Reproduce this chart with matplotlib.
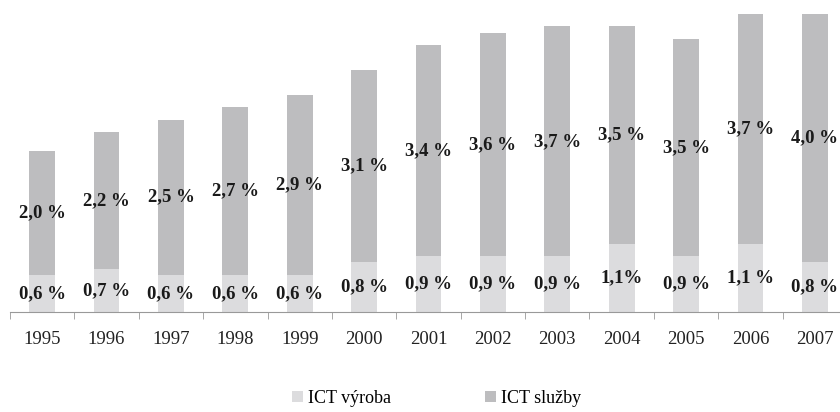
import matplotlib.pyplot as plt
import numpy as np

# Data
years = ['1995', '1996', '1997', '1998', '1999', '2000', '2001',
         '2002', '2003', '2004', '2005', '2006', '2007']
ict_vyroba = [0.6, 0.7, 0.6, 0.6, 0.6, 0.8, 0.9, 0.9, 0.9, 1.1, 0.9, 1.1, 0.8]
ict_sluzby = [2.0, 2.2, 2.5, 2.7, 2.9, 3.1, 3.4, 3.6, 3.7, 3.5, 3.5, 3.7, 4.0]
vyroba_labels = ['0,6 %', '0,7 %', '0,6 %', '0,6 %', '0,6 %', '0,8 %', '0,9 %',
                 '0,9 %', '0,9 %', '1,1%', '0,9 %', '1,1 %', '0,8 %']
sluzby_labels = ['2,0 %', '2,2 %', '2,5 %', '2,7 %', '2,9 %', '3,1 %', '3,4 %',
                 '3,6 %', '3,7 %', '3,5 %', '3,5 %', '3,7 %', '4,0 %']

plt.rcParams['font.family'] = ['Liberation Serif', 'DejaVu Serif']

fig = plt.figure(figsize=(8.4, 4.12), dpi=100)
ax = fig.add_axes([10 / 840, 1 - 312 / 412, 837 / 840, 298 / 412])

x = np.arange(len(years))
c_low = '#dcdcde'
c_high = '#bdbdbf'
b1 = ax.bar(x, ict_vyroba, width=0.4, color=c_low, label='ICT výroba')
b2 = ax.bar(x, ict_sluzby, width=0.4, bottom=ict_vyroba, color=c_high, label='ICT služby')

for i in range(len(years)):
    ax.text(x[i], ict_vyroba[i] / 2, vyroba_labels[i], ha='center', va='center',
            fontsize=13.5, fontweight='bold', color='#1a1a1a')
    ax.text(x[i], ict_vyroba[i] + ict_sluzby[i] / 2, sluzby_labels[i], ha='center',
            va='center', fontsize=13.5, fontweight='bold', color='#1a1a1a')

ax.set_xlim(-0.5, len(years) - 0.5)
ax.set_ylim(0, 4.8)
ax.set_yticks([])
for s in ['top', 'right', 'left']:
    ax.spines[s].set_visible(False)
ax.spines['bottom'].set_color('#999999')

ax.set_xticks(x)
ax.set_xticklabels(years, fontsize=13.5, color='#222222')
ax.tick_params(axis='x', which='major', length=0, pad=14)
ax.set_xticks(np.arange(len(years) + 1) - 0.5, minor=True)
ax.tick_params(axis='x', which='minor', length=5, color='#999999')

fig.legend(handles=[b1, b2], loc='center', bbox_to_anchor=(0.52, 0.033), ncol=2,
           frameon=False, fontsize=13, handlelength=0.6, handleheight=0.6,
           handletextpad=0.3, columnspacing=5.2)

fig.savefig('out.png', dpi=100)
